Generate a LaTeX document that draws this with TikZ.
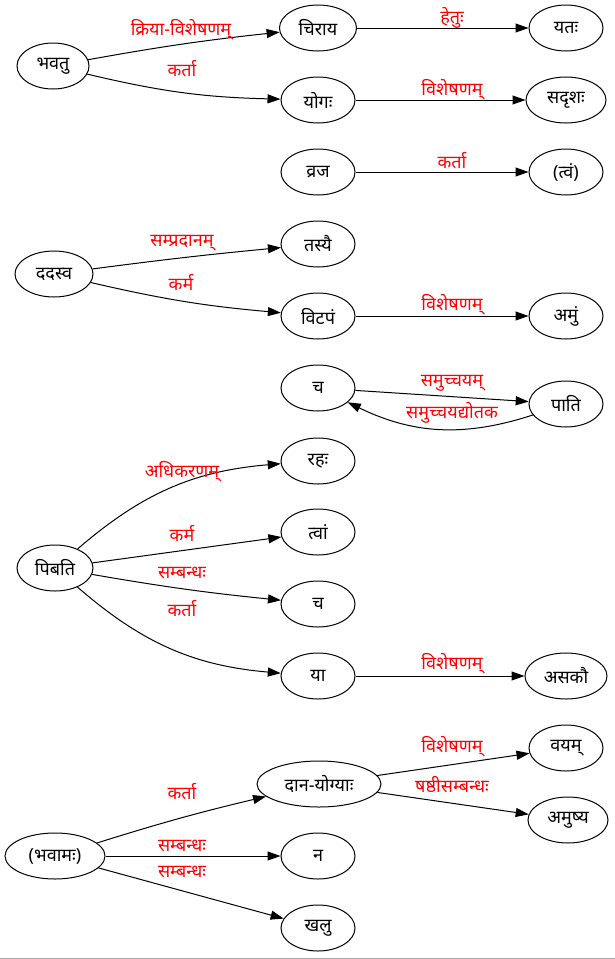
\documentclass[tikz,border=0pt]{standalone}
\usepackage{fontspec}
\setmainfont[Script=Devanagari]{Noto Sans}
\usetikzlibrary{shapes.geometric,arrows.meta}
\tikzset{
  nd/.style={draw=black, ellipse, line width=1pt, minimum width=74pt, minimum height=46pt, inner sep=0pt, font=\fontsize{18}{20}\selectfont},
  lbl/.style={text=red, inner sep=0pt, font=\fontsize{18}{20}\selectfont},
  arr/.style={draw=black, line width=1pt, -{Triangle[length=13pt,width=9pt]}}
}
\begin{document}
\begin{tikzpicture}[x=1pt,y=-1pt]
\useasboundingbox (0,0) rectangle (615,959);
\fill[white] (0,0) rectangle (615,959);
\draw[color=black!33, line width=1pt] (0,958) -- (615,958);
% nodes
\node[nd, minimum width=72pt] (bhavatu) at (53,66) {भवतु};
\node[nd, minimum width=77pt] (chiraya) at (318,28) {चिराय};
\node[nd] (yatah) at (566,28) {यतः};
\node[nd] (yogah) at (318,100) {योगः};
\node[nd, minimum width=80pt] (sadrishah) at (566,100) {सदृशः};
\node[nd] (vraja) at (318,172) {व्रज};
\node[nd] (tvam) at (566,172) {(त्वं)};
\node[nd, minimum width=78pt] (dadasva) at (54,274) {ददस्व};
\node[nd] (tasyai) at (318,244) {तस्यै};
\node[nd] (vitapam) at (318,316) {विटपं};
\node[nd] (amum) at (566,316) {अमुं};
\node[nd] (ca1) at (318,388) {च};
\node[nd] (pati) at (566,404) {पाति};
\node[nd] (rahah) at (318,461) {रहः};
\node[nd] (tvaam) at (318,532) {त्वां};
\node[nd, minimum width=76pt] (pibati) at (55,568) {पिबति};
\node[nd] (ca2) at (318,604) {च};
\node[nd] (yaa) at (318,676) {या};
\node[nd, minimum width=82pt] (asakau) at (566,676) {असकौ};
\node[nd, minimum width=124pt] (danayogyah) at (319,784) {दान-योग्याः};
\node[nd] (vayam) at (566,748) {वयम्};
\node[nd, minimum width=80pt] (amushya) at (568,820) {अमुष्य};
\node[nd, minimum width=100pt] (bhavamah) at (55,856) {(भवामः)};
\node[nd] (na) at (318,856) {न};
\node[nd] (khalu) at (318,928) {खलु};
% edges
\draw[arr] (bhavatu) to[bend left=2] (chiraya);
\draw[arr] (bhavatu) to[bend right=6] (yogah);
\draw[arr] (chiraya) -- (yatah);
\draw[arr] (yogah) -- (sadrishah);
\draw[arr] (vraja) -- (tvam);
\draw[arr] (dadasva) to[bend left=1] (tasyai);
\draw[arr] (dadasva) to[bend right=4] (vitapam);
\draw[arr] (vitapam) -- (amum);
\draw[arr] (ca1) -- (pati);
\draw[arr] (pati) to[bend left=22] (ca1);
\draw[arr] (pibati) to[bend left=18] (rahah);
\draw[arr] (pibati) -- (tvaam);
\draw[arr] (pibati) to[bend right=2] (ca2);
\draw[arr] (pibati) to[bend right=18] (yaa);
\draw[arr] (yaa) -- (asakau);
\draw[arr] (danayogyah) -- (vayam);
\draw[arr] (danayogyah) -- (amushya);
\draw[arr] (bhavamah) to[bend left=2] (danayogyah);
\draw[arr] (bhavamah) -- (na);
\draw[arr] (bhavamah) -- (khalu);
% labels
\node[lbl] (l1) at (181,30) {क्रिया-विशेषणम्};
\node[lbl] (l2) at (182,69) {कर्ता};
\node[lbl] (l3) at (452,18) {हेतुः};
\node[lbl] (l4) at (452,90) {विशेषणम्};
\node[lbl] (l5) at (452,161) {कर्ता};
\node[lbl] (l6) at (182,243) {सम्प्रदानम्};
\node[lbl] (l7) at (181,282) {कर्म};
\node[lbl] (l8) at (452,305) {विशेषणम्};
\node[lbl] (l9) at (452,383) {समुच्चयम्};
\node[lbl] (l10) at (452,413) {समुच्चयद्योतक};
\node[lbl] (l11) at (182,472) {अधिकरणम्};
\node[lbl] (l12) at (182,533) {कर्म};
\node[lbl] (l13) at (182,573) {सम्बन्धः};
\node[lbl] (l14) at (182,609) {कर्ता};
\node[lbl] (l15) at (452,664) {विशेषणम्};
\node[lbl] (l16) at (452,747) {विशेषणम्};
\node[lbl] (l17) at (452,785) {षष्ठीसम्बन्धः};
\node[lbl] (l18) at (182,792) {कर्ता};
\node[lbl] (l19) at (182,846) {सम्बन्धः};
\node[lbl] (l20) at (182,872) {सम्बन्धः};
\end{tikzpicture}
\end{document}
